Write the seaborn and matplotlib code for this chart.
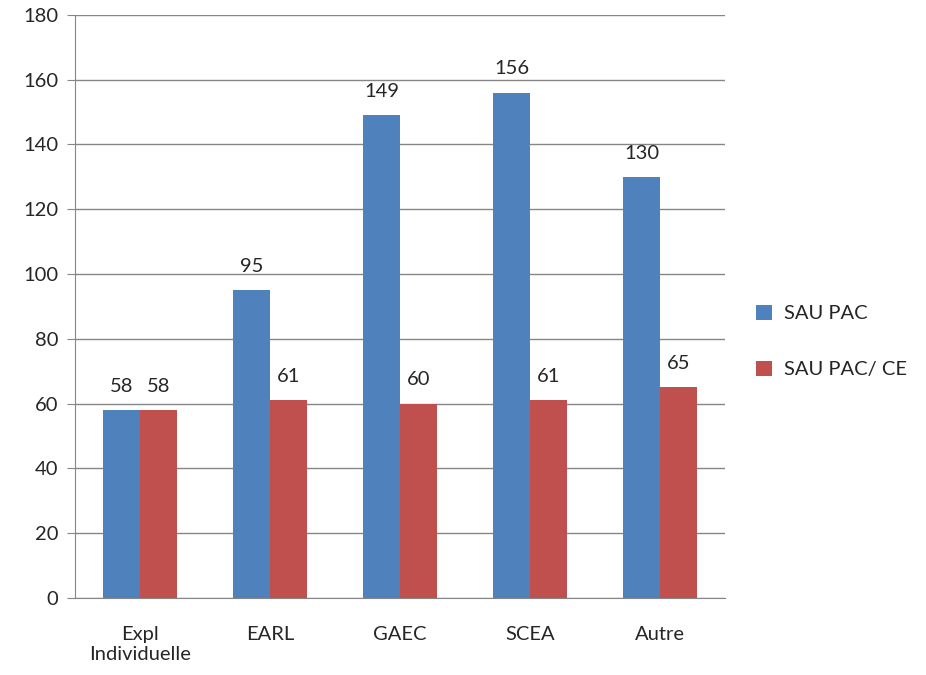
"""Bar chart: SAU PAC vs SAU PAC/ CE by legal form."""

import matplotlib.pyplot as plt
import pandas as pd
import seaborn as sns

categories = ["Expl\nIndividuelle", "EARL", "GAEC", "SCEA", "Autre"]
sau_pac = [58, 95, 149, 156, 130]
sau_pac_ce = [58, 61, 60, 61, 65]
series_names = ["SAU PAC", "SAU PAC/ CE"]
colors = ["#4F81BD", "#C0504D"]

df = pd.DataFrame(
    {
        "categorie": categories * 2,
        "valeur": sau_pac + sau_pac_ce,
        "serie": [series_names[0]] * len(categories) + [series_names[1]] * len(categories),
    }
)

sns.set_style("white")
plt.rcParams["font.family"] = ["Lato", "DejaVu Sans"]

fig = plt.figure(figsize=(9.26, 6.75), dpi=100)
ax = fig.add_axes([0.081, 0.114, 0.702, 0.864])

sns.barplot(
    data=df,
    x="categorie",
    y="valeur",
    hue="serie",
    order=categories,
    hue_order=series_names,
    palette=colors,
    width=0.57,
    saturation=1,
    linewidth=0,
    edgecolor="none",
    ax=ax,
)

for container in ax.containers:
    ax.bar_label(container, fmt="%d", padding=11, fontsize=14.5)

ax.set_ylim(0, 180)
ax.set_yticks(range(0, 181, 20))
ax.set_xlim(-0.5, len(categories) - 0.5)
ax.set_xlabel("")
ax.set_ylabel("")
ax.yaxis.grid(True, color="#868686", linewidth=1)
ax.set_axisbelow(True)

for side in ["top", "right"]:
    ax.spines[side].set_visible(False)
for side in ["left", "bottom"]:
    ax.spines[side].set_color("#868686")

# category separators as tick marks on x axis
ax.set_xticks([i - 0.5 for i in range(len(categories) + 1)], minor=True)
ax.tick_params(axis="x", which="minor", length=6, color="#868686", direction="out")
ax.tick_params(axis="x", which="major", length=0, labelsize=14.5, pad=20)
ax.tick_params(axis="y", length=6, color="#868686", direction="out", labelsize=14.5, left=True, pad=6)

ax.legend(
    loc="center left",
    bbox_to_anchor=(1.02, 0.44),
    frameon=False,
    fontsize=14.5,
    handlelength=0.8,
    handleheight=0.8,
    labelspacing=1.9,
    handletextpad=0.6,
)

fig.savefig("out.png", dpi=100)
